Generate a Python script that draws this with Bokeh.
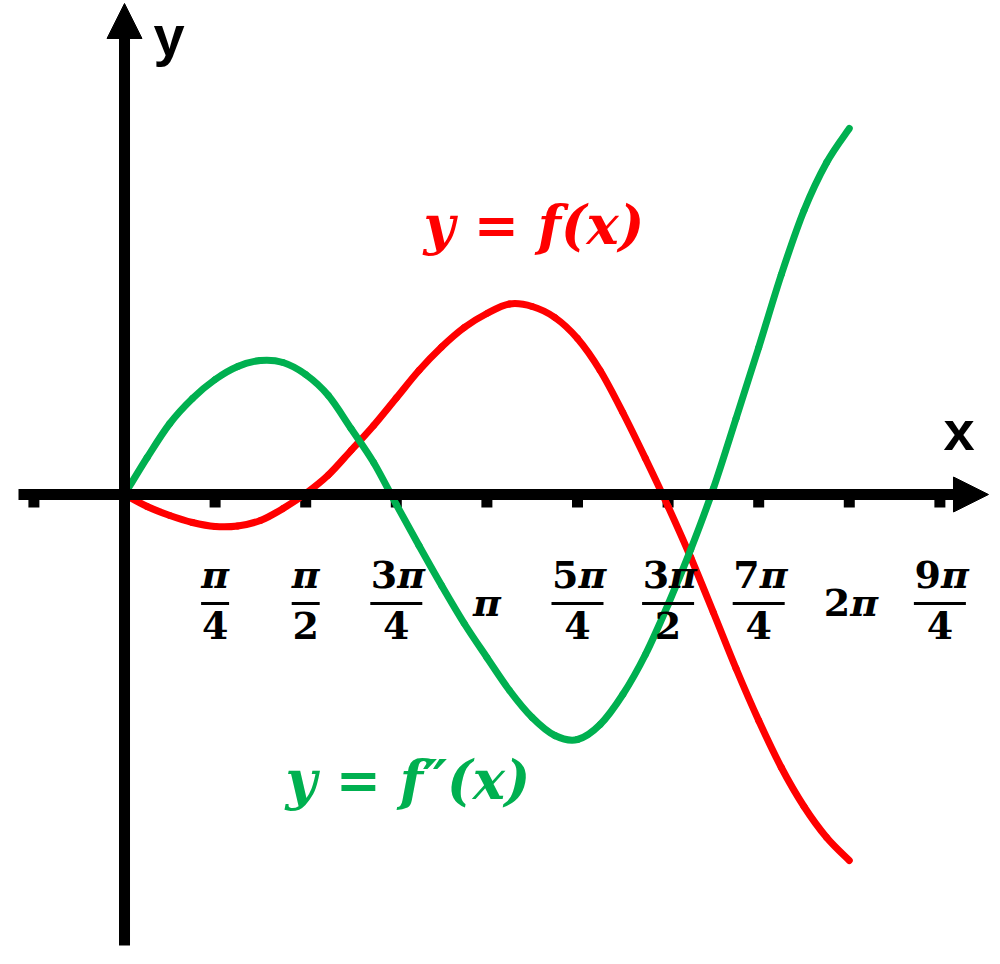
import numpy as np
from bokeh.plotting import figure
from bokeh.models import Arrow, NormalHead, ColumnDataSource, Label
from bokeh.core.properties import value
from bokeh.embed import file_html
from bokeh.resources import INLINE

# ---- data ----
# sample grid: multiples of pi/16 from 0 to 2*pi
sample_steps = list(range(33))
f_vals = [0.00, -0.12, -0.21, -0.28, -0.32, -0.315, -0.26, -0.14, 0.01,
          0.195, 0.44, 0.69, 0.965, 1.24, 1.475, 1.67, 1.81, 1.905, 1.88,
          1.77, 1.56, 1.24, 0.82, 0.36, -0.12, -0.63, -1.18, -1.74,
          -2.26, -2.73, -3.12, -3.43, -3.66]
f2_vals = [0.00, 0.37, 0.71, 0.96, 1.15, 1.28, 1.34, 1.32, 1.20,
           0.99, 0.66, 0.32, -0.10, -0.51, -0.91, -1.29, -1.63, -1.96,
           -2.23, -2.41, -2.45, -2.30, -2.00, -1.60, -1.10, -0.55, 0.06,
           0.76, 1.47, 2.20, 2.84, 3.32, 3.66]

tick_steps = [-1, 1, 2, 3, 4, 5, 6, 7, 8, 9]          # multiples of pi/4
label_steps = [1, 2, 3, 4, 5, 6, 7, 8, 9]
numerators = ["π", "π", "3π", "π", "5π", "3π", "7π", "2π", "9π"]
denominators = ["4", "2", "4", "", "4", "2", "4", "", "4"]

RED = "#FF0000"
GREEN = "#00B050"

x_vals = [s * np.pi / 16 for s in sample_steps]
tick_x = [s * np.pi / 4 for s in tick_steps]
lab_x = [s * np.pi / 4 for s in label_steps]

p = figure(width=992, height=956, x_range=(-1.075, 7.5247), y_range=(-4.62, 4.94),
           toolbar_location=None, output_backend="svg", min_border=0,
           x_axis_type=None, y_axis_type=None)
p.outline_line_color = None
p.background_fill_color = "white"

# axes with arrows
p.add_layout(Arrow(end=NormalHead(size=35, fill_color="black", line_color="black"),
                   x_start=-0.919, y_start=0, x_end=7.49, y_end=0,
                   line_width=11, line_color="black"))
p.add_layout(Arrow(end=NormalHead(size=35, fill_color="black", line_color="black"),
                   x_start=0, y_start=-4.51, x_end=0, y_end=4.91,
                   line_width=11, line_color="black"))
# tick marks
p.segment(x0=tick_x, y0=[0] * len(tick_x), x1=tick_x, y1=[-0.13] * len(tick_x),
          line_width=11, line_color="black")


def smooth(xs, ys):
    """Cubic Bezier pieces through the read points (Catmull-Rom tangents)."""
    n = len(xs)
    d = dict(x0=[], y0=[], x1=[], y1=[], cx0=[], cy0=[], cx1=[], cy1=[])
    for i in range(n - 1):
        ip, inn = max(i - 1, 0), min(i + 2, n - 1)
        d["x0"].append(xs[i]); d["y0"].append(ys[i])
        d["x1"].append(xs[i + 1]); d["y1"].append(ys[i + 1])
        d["cx0"].append(xs[i] + (xs[i + 1] - xs[ip]) / 6)
        d["cy0"].append(ys[i] + (ys[i + 1] - ys[ip]) / 6)
        d["cx1"].append(xs[i + 1] - (xs[inn] - xs[i]) / 6)
        d["cy1"].append(ys[i + 1] - (ys[inn] - ys[i]) / 6)
    return ColumnDataSource(d)


for vals, col in ((f_vals, RED), (f2_vals, GREEN)):
    p.bezier(x0="x0", y0="y0", x1="x1", y1="y1", cx0="cx0", cy0="cy0",
             cx1="cx1", cy1="cy1", source=smooth(x_vals, vals),
             line_color=col, line_width=7, line_cap="round")

# tick labels (digits upright bold, pi bold italic)
FS = 38
digit_kw = dict(text_font=value("DejaVu Serif"), text_font_style="bold",
                text_font_size=f"{FS}px", text_baseline="alphabetic", text_color="black")
pi_kw = dict(text_font=value("DejaVu Serif"), text_font_style="bold italic",
             text_font_size=f"{FS}px", text_baseline="alphabetic", text_color="black")

num_y = [-0.80 if d else -1.08 for d in denominators]
dig_idx = [i for i, n in enumerate(numerators) if len(n) > 1]
one_idx = [i for i, n in enumerate(numerators) if len(n) == 1]
p.text(x=[lab_x[i] for i in dig_idx], y=[num_y[i] for i in dig_idx],
       text=[numerators[i][:-1] for i in dig_idx], text_align="right", x_offset=1, **digit_kw)
p.text(x=[lab_x[i] for i in dig_idx], y=[num_y[i] for i in dig_idx],
       text=[numerators[i][-1] for i in dig_idx], text_align="left", x_offset=1, **pi_kw)
p.text(x=[lab_x[i] for i in one_idx], y=[num_y[i] for i in one_idx],
       text=[numerators[i] for i in one_idx], text_align="center", **pi_kw)

frac_idx = [i for i, d in enumerate(denominators) if d]
frac_src = ColumnDataSource(dict(
    x=[lab_x[i] for i in frac_idx],
    den=[denominators[i] for i in frac_idx],
    w=[28 if len(numerators[i]) == 1 else 52 for i in frac_idx],
))
p.text(x="x", y=-1.31, text="den", source=frac_src, text_align="center", **digit_kw)
p.rect(x="x", y=-1.09, width="w", height=3, width_units="screen", height_units="screen",
       source=frac_src, fill_color="black", line_color=None)

# axis names
p.add_layout(Label(x=0.251, y=4.59, text="y", text_font="Liberation Sans",
                   text_font_style="bold", text_font_size="56px", text_color="black",
                   text_baseline="alphabetic"))
p.add_layout(Label(x=7.10, y=0.64, text="x", text_font="Liberation Sans",
                   text_font_style="bold", text_font_size="56px", text_color="black",
                   text_baseline="alphabetic"))

# curve names
p.add_layout(Label(x=2.592, y=2.70, text="y = f(x)", text_font="DejaVu Serif",
                   text_font_style="bold italic", text_font_size="54px", text_color=RED,
                   text_baseline="alphabetic"))
p.add_layout(Label(x=1.396, y=-2.85, text="y = f″(x)", text_font="DejaVu Serif",
                   text_font_style="bold italic", text_font_size="54px", text_color=GREEN,
                   text_baseline="alphabetic"))

open("out.html", "w").write(file_html(p, INLINE, "chart"))
